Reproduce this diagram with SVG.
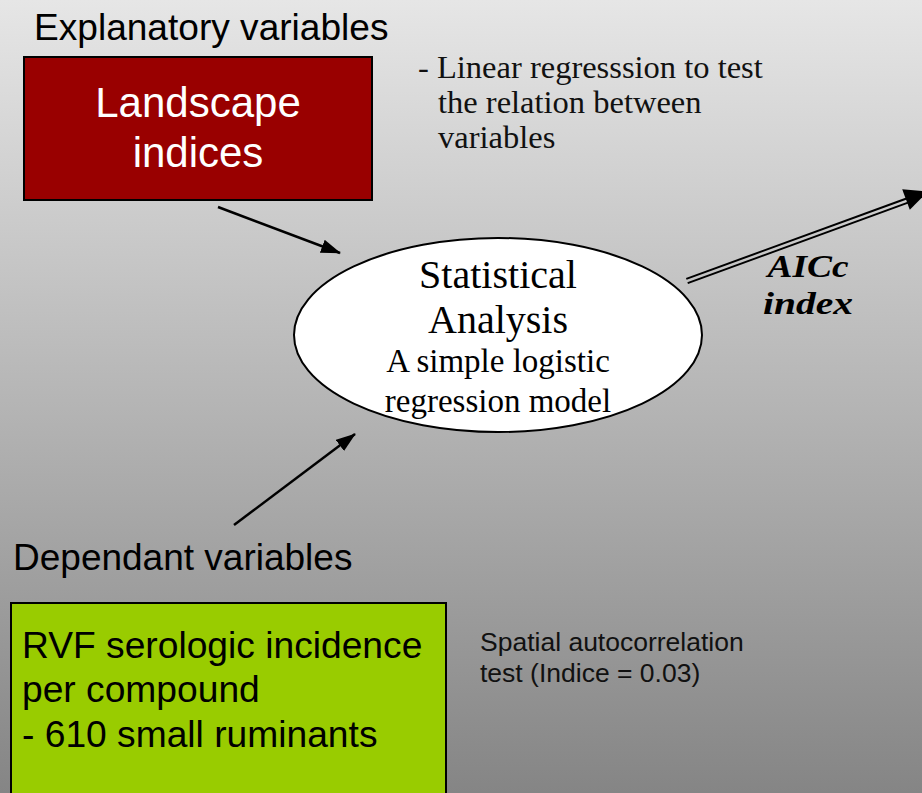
<svg xmlns="http://www.w3.org/2000/svg" width="922" height="793" viewBox="0 0 922 793">
<defs>
<linearGradient id="bg" x1="0" y1="0" x2="0" y2="1">
<stop offset="0" stop-color="#e6e6e6"/>
<stop offset="1" stop-color="#858585"/>
</linearGradient>
<marker id="arr" viewBox="0 0 20 14" refX="19" refY="7" markerWidth="20" markerHeight="14" markerUnits="userSpaceOnUse" orient="auto">
<path d="M0,0 L20,7 L0,14 z" fill="#000"/>
</marker>
</defs>
<style>
.sans{font-family:"Liberation Sans",Arial,sans-serif;}
.serif{font-family:"Liberation Serif","Times New Roman",serif;}
.conn{stroke:#000;stroke-width:2.5;fill:none;}
</style>
<rect x="0" y="0" width="922" height="793" fill="url(#bg)"/>

<g id="explanatory-label">
<text class="sans" x="34" y="40" font-size="37.1" fill="#000">Explanatory variables</text>
</g>

<g id="landscape">
<rect x="24" y="57" width="348" height="143" fill="#990000" stroke="#000" stroke-width="2"/>
<text class="sans" x="198" y="117" font-size="42" fill="#fff" text-anchor="middle">Landscape</text>
<text class="sans" x="198" y="167" font-size="42" fill="#fff" text-anchor="middle">indices</text>
</g>

<g id="linear-note" class="serif" font-size="32.5" fill="#111">
<text x="418" y="78">- Linear regresssion to test</text>
<text x="438" y="113">the relation between</text>
<text x="438" y="148">variables</text>
</g>

<g id="statistical">
<ellipse cx="498" cy="335" rx="204" ry="97" fill="#fff" stroke="#000" stroke-width="2"/>
<text class="serif" x="498" y="288" font-size="40" text-anchor="middle">Statistical</text>
<text class="serif" x="498" y="333" font-size="40" text-anchor="middle">Analysis</text>
<text class="serif" x="498" y="372" font-size="33" text-anchor="middle">A simple logistic</text>
<text class="serif" x="498" y="412" font-size="33" text-anchor="middle">regression model</text>
</g>

<g id="aicc-label">
<text class="serif" x="808" y="277" font-size="32" font-weight="bold" font-style="italic" text-anchor="middle" textLength="81" lengthAdjust="spacingAndGlyphs">AICc</text>
<text class="serif" x="808" y="314" font-size="32" font-weight="bold" font-style="italic" text-anchor="middle" textLength="90" lengthAdjust="spacingAndGlyphs">index</text>
</g>

<g id="dependant-label">
<text class="sans" x="13" y="570" font-size="37" fill="#000">Dependant variables</text>
</g>

<g id="rvf">
<rect x="11" y="603" width="435" height="200" fill="#99cc00" stroke="#000" stroke-width="2"/>
<text class="sans" x="22" y="658" font-size="37.2">RVF serologic incidence</text>
<text class="sans" x="22" y="702" font-size="37.2">per compound</text>
<text class="sans" x="22" y="747" font-size="37.2">- 610 small ruminants</text>
</g>

<g id="spatial-note" class="sans" font-size="26.5" fill="#111">
<text x="480" y="651">Spatial autocorrelation</text>
<text x="480" y="682">test (Indice = 0.03)</text>
</g>

<g id="connectors">
<line class="conn" x1="218" y1="207" x2="340" y2="253" marker-end="url(#arr)"/>
<line class="conn" x1="234" y1="525" x2="355" y2="434" marker-end="url(#arr)"/>
<line x1="687.7" y1="283.1" x2="908" y2="202.6" stroke="#000" stroke-width="2"/>
<line x1="686.3" y1="278.9" x2="906.5" y2="198.5" stroke="#000" stroke-width="2"/>
<polygon points="928,191.5 909.8,209.8 902.2,189.2" fill="#000"/>
</g>
</svg>
